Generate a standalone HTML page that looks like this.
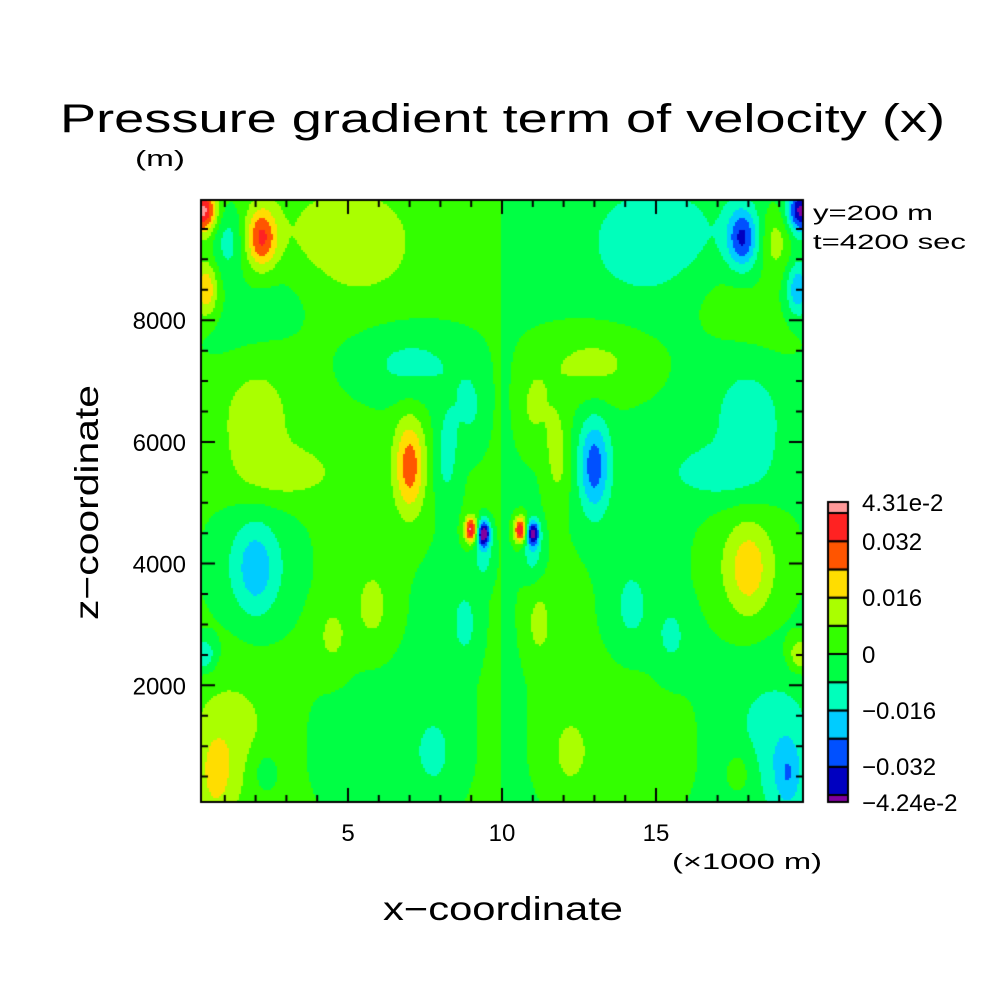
<!DOCTYPE html>
<html><head><meta charset="utf-8">
<style>
body{margin:0;background:#fff;}
#wrap{position:relative;width:1004px;height:1004px;overflow:hidden;}
canvas{position:absolute;left:0;top:0;}
svg{position:absolute;left:0;top:0;}
text{font-family:"Liberation Sans",sans-serif;fill:#000;}
</style></head><body>
<div id="wrap">
<canvas id="cv" width="1004" height="1004"></canvas>
<svg id="sv" width="1004" height="1004">
<text x="60" y="132" font-size="40" textLength="885" lengthAdjust="spacingAndGlyphs">Pressure gradient term of velocity (x)</text>
<text x="135" y="166" font-size="22" textLength="50" lengthAdjust="spacingAndGlyphs">(m)</text>
<text x="813" y="220" font-size="21" textLength="120" lengthAdjust="spacingAndGlyphs">y=200 m</text>
<text x="813" y="249" font-size="21" textLength="153" lengthAdjust="spacingAndGlyphs">t=4200 sec</text>
<text x="672" y="869" font-size="22" textLength="150" lengthAdjust="spacingAndGlyphs">(×1000 m)</text>
<text x="383" y="920" font-size="33" textLength="240" lengthAdjust="spacingAndGlyphs">x−coordinate</text>
<text transform="translate(98,620) rotate(-90)" font-size="33" textLength="235" lengthAdjust="spacingAndGlyphs">z−coordinate</text>
</svg>
</div>
<script>
// contour level boundaries and colors (bins)
const levels = [-0.0424,-0.04,-0.032,-0.024,-0.016,-0.008,0,0.008,0.016,0.024,0.032,0.04,0.0431];
const binColors = ['#8000a0','#0000c0','#0050ff','#00ccff','#00ffbb','#00ff44','#33ff00','#aaff00','#ffdd00','#ff5500','#ff2222','#ff9999'];
const cbLabels = ['4.31e-2','0.032','0.016','0','−0.016','−0.032','−4.24e-2'];
const xTicks = [5,10,15];
const zTicks = [2000,4000,6000,8000];
// field features: center x (km), center z (m), amplitude, sigma x (km), sigma z (m)
const blobX = [5.0,15.0,6.5,13.5,0.3,19.7,2.2,17.8,0.4,19.6,1.1,18.9,5.0,15.0,7.0,13.0,2.0,18.0,3.2,16.8,7.0,13.0,8.2,11.8,9.4,9.0,9.4,10.6,11.0,2.0,18.0,2.0,18.0,1.2,18.8,0.7,19.3,0.3,19.7,2.2,17.8,5.8,14.2,8.8,11.2,7.8,12.2,9.0,11.0,4.5,15.5,2.8,17.2,1.5,18.5,8.5,11.5,11.0];
const blobZ = [9000,9000,1000,1000,9800,9800,9350,9350,8500,8500,9300,9300,9300,9300,7300,7300,6300,6300,5500,5500,5600,5600,5800,5800,4150,4550,4500,4550,4500,4000,4000,3900,3900,1000,1000,500,500,2500,2500,600,600,3300,3300,3000,3000,900,900,6500,6500,2800,2800,8400,8400,7700,7700,3500,3500,4150];
const blobA = [0.003,-0.003,-0.006,0.006,0.04,-0.04,0.03,-0.03,0.022,-0.022,-0.014,0.014,0.009,-0.009,-0.013,0.013,0.011,-0.011,0.01,-0.01,0.027,-0.027,-0.013,0.013,-0.012,0.043,-0.045,0.043,-0.04,-0.012,0.012,-0.012,0.012,0.012,-0.012,0.012,-0.014,-0.018,0.018,-0.009,0.009,0.01,-0.01,-0.01,0.01,-0.009,0.009,-0.01,0.01,0.009,-0.009,-0.006,0.006,-0.005,0.005,-0.004,0.004,-0.012];
const blobSX = [3,3,2.2,2.2,0.3,0.3,0.35,0.35,0.25,0.25,0.35,0.35,1.4,1.4,1.5,1.5,0.8,0.8,1.0,1.0,0.35,0.35,0.3,0.3,0.25,0.15,0.15,0.15,0.15,1.0,1.0,0.45,0.45,1.0,1.0,0.3,0.3,0.3,0.3,0.4,0.4,0.4,0.4,0.3,0.3,0.4,0.4,0.4,0.4,0.4,0.4,1.2,1.2,1.2,1.2,1.2,1.2,0.25];
const blobSZ = [1500,1500,1000,1000,250,250,350,350,300,300,400,400,600,600,480,480,800,800,300,300,550,550,600,600,300,150,150,150,150,700,700,550,550,800,800,400,400,200,200,350,350,450,450,400,400,400,400,500,500,400,400,500,500,500,500,900,900,300];

const X0=194, XS=30.8, Z0=807, ZS=0.06085;
const L=201,T=200,R=803,B=802;
const px = x => X0 + x*XS;
const pz = z => Z0 - z*ZS;
const ix = p => (p - X0)/XS;
const iz = p => (Z0 - p)/ZS;

function field(x,z){
  let v = x<10 ? 0.002 : -0.002;
  for(let i=0;i<blobX.length;i++){
    const dx=(x-blobX[i])/blobSX[i], dz=(z-blobZ[i])/blobSZ[i];
    const d=dx*dx+dz*dz;
    if(d<30) v += blobA[i]*Math.exp(-d/2);
  }
  return v;
}
function binOf(v){
  for(let k=levels.length-2;k>=0;k--) if(v>=levels[k]) return k;
  return 0;
}
const cv=document.getElementById('cv');
const ctx=cv.getContext('2d');
const cell=2;
for(let yy=T; yy<B; yy+=cell){
  for(let xx=L; xx<R; xx+=cell){
    const v=field(ix(xx+cell/2), iz(yy+cell/2));
    ctx.fillStyle=binColors[binOf(v)];
    ctx.fillRect(xx,yy,cell,cell);
  }
}
// frame and ticks
ctx.strokeStyle='#000';ctx.lineWidth=2;
ctx.strokeRect(L,T,R-L,B-T);
for(let x=1;x<=19;x++){
  const p=px(x); const len = x%5===0?14:7;
  ctx.beginPath();ctx.moveTo(p,B);ctx.lineTo(p,B-len);ctx.moveTo(p,T);ctx.lineTo(p,T+len);ctx.stroke();
}
for(let z=500;z<=9500;z+=500){
  const p=pz(z); const len = z%2000===0?14:7;
  ctx.beginPath();ctx.moveTo(L,p);ctx.lineTo(L+len,p);ctx.moveTo(R,p);ctx.lineTo(R-len,p);ctx.stroke();
}
// colorbar
const cbTop=513, cbStep=28.2, cbX=828, cbW=20;
for(let k=0;k<binColors.length;k++){
  let y0,y1;
  if(k===11){y0=502;y1=513;}
  else if(k===0){y0=795;y1=802;}
  else {y0=cbTop+(10-k)*cbStep; y1=y0+cbStep;}
  ctx.fillStyle=binColors[k];ctx.fillRect(cbX,y0,cbW,y1-y0);
  ctx.strokeStyle='#000';ctx.lineWidth=2;ctx.strokeRect(cbX,y0,cbW,y1-y0);
}
const sv=document.getElementById('sv');
const NS='http://www.w3.org/2000/svg';
function addText(x,y,s,anchor,size,name){
  const t=document.createElementNS(NS,'text');
  t.setAttribute('x',x);t.setAttribute('y',y);t.setAttribute('font-size',size);
  t.setAttribute('text-anchor',anchor);t.textContent=s;
  
  
  sv.appendChild(t);
}
xTicks.forEach(v=>addText(px(v),841,String(v),'middle',24,'x-tick-label'));
zTicks.forEach(v=>addText(186,pz(v)+9,String(v),'end',24,'y-tick-label'));
const cbY=[502,541,597,654,710,766,802];
cbLabels.forEach((s,i)=>addText(862,cbY[i]+9,s,'start',24,'colorbar-label'));
</script>
</body></html>
